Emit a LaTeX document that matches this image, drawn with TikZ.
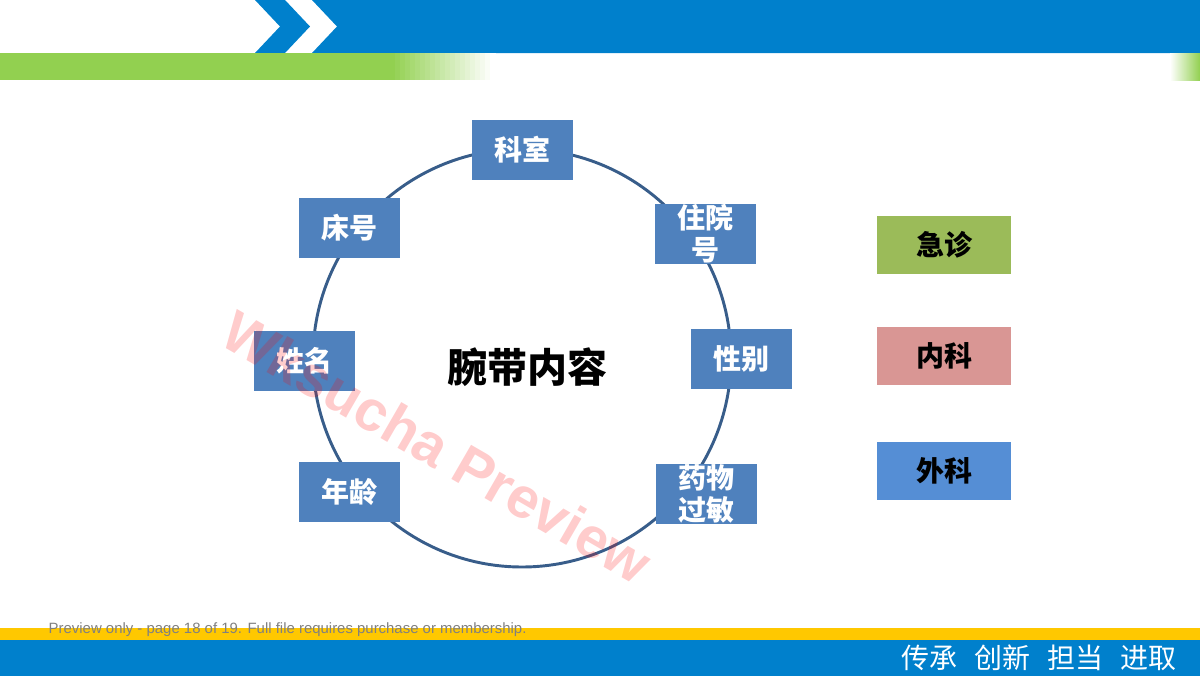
\documentclass[tikz,border=0pt]{standalone}
\usepackage{fontspec}
\setmainfont{Liberation Sans}
\newfontfamily\cjk{Noto Sans CJK SC}
\definecolor{barblue}{RGB}{0,128,204}
\definecolor{bargreen}{RGB}{146,208,80}
\definecolor{baryellow}{RGB}{255,200,0}
\definecolor{itemblue}{RGB}{79,129,189}
\definecolor{ringblue}{RGB}{56,93,138}
\definecolor{tgreen}{RGB}{155,187,89}
\definecolor{tred}{RGB}{217,150,148}
\definecolor{tblue}{RGB}{85,142,213}
\begin{document}
\begin{tikzpicture}[x=.75pt,y=-.75pt,line join=round,
 item/.style={fill=itemblue,text=white,minimum width=75.75pt,minimum height=45pt,
   inner sep=0pt,align=center,font=\cjk\bfseries\fontsize{21}{24}\selectfont},
 tag/.style={minimum width=100.5pt,minimum height=43.5pt,inner sep=0pt,
   font=\cjk\bfseries\fontsize{21}{24}\selectfont}]
\useasboundingbox (0,0) rectangle (1200,676);
% header
\fill[barblue] (255,0)--(285,0)--(310,26.5)--(285,53)--(255,53)--(280,26.5)--cycle;
\fill[barblue] (312,0)--(1200,0)--(1200,53)--(312,53)--(337,26.5)--cycle;
\fill[bargreen] (0,53) rectangle (390,80);
\foreach \i in {0,...,20}
  \fill[bargreen!\the\numexpr100-5*\i\relax!white] (390+5*\i,53) rectangle (395.5+5*\i,80);
\shade[left color=white,right color=bargreen] (1170,53) rectangle (1200,80);
% footer
\fill[baryellow] (0,628) rectangle (1200,640);
\fill[barblue] (0,640) rectangle (1200,676);
\node[text=white,font=\cjk\fontsize{21}{24}\selectfont] (motto) at (1039,658)
  {传承\hspace{.6em}创新\hspace{.6em}担当\hspace{.6em}进取};
% ring
\coordinate (c) at (522,358);
\draw[ringblue,line width=2.2pt] (c) circle[radius=209];
\node[font=\cjk\bfseries\fontsize{30}{36}\selectfont] (title) at (527,367) {腕带内容};
\node[item] (dept) at (522,150) {科室};
\node[item] (inpat) at (705,234) {住院\\号};
\node[item] (sex) at (741,359) {性别};
\node[item] (drug) at (706,494) {药物\\过敏};
\node[item] (age) at (349,492) {年龄};
\node[item] (name) at (304,361) {姓名};
\node[item] (bed) at (349,228) {床号};
% legend
\node[tag,fill=tgreen] (emerg) at (944,245) {急诊};
\node[tag,fill=tred] (medic) at (944,356) {内科};
\node[tag,fill=tblue] (surg) at (944,471) {外科};
% preview marks
\node[red,opacity=.2,rotate=-30,font=\bfseries\fontsize{43}{48}\selectfont] (wm) at (437,447) {Wksucha Preview};
\node[anchor=west,text=gray,font=\fontsize{11.2}{13}\selectfont] (note) at (44,630)
  {Preview only - page 18 of 19. Full file requires purchase or membership.};
\end{tikzpicture}
\end{document}
